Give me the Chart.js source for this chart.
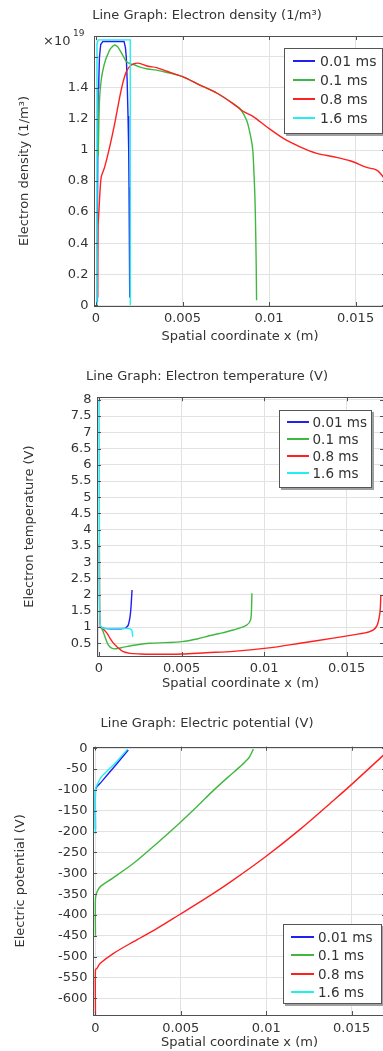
<!DOCTYPE html>
<html>
<head>
<meta charset="utf-8">
<title>Line Graph</title>
<script src="https://cdn.jsdelivr.net/npm/chart.js@4.4.0/dist/chart.umd.min.js"></script>
<style>
html, body { margin: 0; padding: 0; background: #fff; overflow: hidden; }
#pagina { position: relative; width: 383px; height: 1051px; overflow: hidden; font-family: "DejaVu Sans", sans-serif; color: #333; }
.panel { position: absolute; left: 0; width: 383px; overflow: hidden; }
.panel canvas { display: block; }
.leyenda { position: absolute; background: #fff; border: 1px solid #555; box-shadow: 2px 2px 0 #a0a0a0; box-sizing: border-box; }
.leyenda .fila { display: flex; align-items: center; white-space: nowrap; }
.leyenda .linea { display: inline-block; height: 2px; }
.exp { position: absolute; color: #333; white-space: nowrap; }
</style>
</head>
<body>
<div id="pagina">
  <div class="panel" id="panel1" style="top:0px;height:345px">
    <canvas id="graficaDensidad" width="414" height="345"></canvas>
    <span class="exp" style="left:43px;top:33px;font-size:13px">×10</span>
    <span class="exp" style="left:73px;top:28px;font-size:9px">19</span>
  </div>
  <div class="panel" id="panel2" style="top:345px;height:350px">
    <canvas id="graficaTemperatura" width="414" height="350"></canvas>
  </div>
  <div class="panel" id="panel3" style="top:695px;height:356px">
    <canvas id="graficaPotencial" width="414" height="356"></canvas>
  </div>
</div>
<script>
"use strict";

// series (tiempos) y sus colores
let series = ["0.01 ms", "0.1 ms", "0.8 ms", "1.6 ms"];
let colores = ["#2020f0", "#40b840", "#ff2020", "#20f0f0"];

// eje x compartido (m)
let ticksX = [0, 0.005, 0.01, 0.015];
let etiquetasX = ["0", "0.005", "0.01", "0.015"];

// ---------- densidad de electrones (x10^19 1/m3) ----------
let ticksDensidad = [0, 0.2, 0.4, 0.6, 0.8, 1, 1.2, 1.4, 1.6];
let etiquetasDensidad = ["0", "0.2", "0.4", "0.6", "0.8", "1", "1.2", "1.4", ""];

let densX_001 = [0.00008, 0.00008, 0.00012, 0.00016, 0.0002, 0.00027, 0.0004, 0.0008, 0.0012, 0.00162, 0.0017, 0.00175, 0.0018, 0.00185, 0.00189, 0.00191, 0.00194, 0.00196];
let densY_001 = [0.02, 0.52, 1.40, 1.44, 1.60, 1.68, 1.70, 1.70, 1.70, 1.70, 1.66, 1.60, 1.45, 1.22, 1.00, 0.76, 0.40, 0.05];

let densX_01 = [0.00013, 0.00016, 0.00021, 0.0003, 0.0004, 0.00055, 0.00069, 0.00085, 0.00108, 0.00125, 0.00137, 0.0016, 0.00175, 0.002, 0.00224, 0.0025, 0.003, 0.0035, 0.0041, 0.005, 0.006, 0.007, 0.0079, 0.0083, 0.0087, 0.00894, 0.00906, 0.00913, 0.00919, 0.00923, 0.00926, 0.00928];
let densY_01 = [0.96, 1.15, 1.34, 1.45, 1.516, 1.58, 1.62, 1.655, 1.677, 1.665, 1.645, 1.60, 1.57, 1.555, 1.548, 1.536, 1.522, 1.515, 1.500, 1.473, 1.419, 1.366, 1.301, 1.269, 1.194, 1.086, 1.00, 0.85, 0.677, 0.46, 0.247, 0.032];

let densX_08 = [0.0001, 0.00012, 0.00017, 0.00024, 0.00031, 0.0005, 0.00079, 0.00108, 0.00146, 0.00175, 0.00204, 0.00243, 0.003, 0.0035, 0.0041, 0.005, 0.006, 0.007, 0.0079, 0.0085, 0.00909, 0.00986, 0.01083, 0.01179, 0.01276, 0.01372, 0.01468, 0.01565, 0.01622, 0.01659, 0.0168];
let densY_08 = [0.05, 0.505, 0.61, 0.75, 0.83, 0.89, 1.02, 1.17, 1.39, 1.505, 1.548, 1.56, 1.54, 1.531, 1.508, 1.473, 1.419, 1.366, 1.301, 1.25, 1.215, 1.15, 1.075, 1.021, 0.979, 0.957, 0.931, 0.888, 0.871, 0.828, 0.78];

let densX_16 = [0.00006, 0.00006, 0.00012, 0.0002, 0.001, 0.00198, 0.00198];
let densY_16 = [0.0, 1.68, 1.71, 1.71, 1.71, 1.71, 0.0];

// ---------- temperatura de electrones (V) ----------
let ticksTemperatura = [0.5, 1, 1.5, 2, 2.5, 3, 3.5, 4, 4.5, 5, 5.5, 6, 6.5, 7, 7.5, 8];
let etiquetasTemperatura = ["0.5", "1", "1.5", "2", "2.5", "3", "3.5", "4", "4.5", "5", "5.5", "6", "6.5", "7", "7.5", "8"];

let tempX_001 = [0.00005, 0.0003, 0.00157, 0.00177, 0.00188, 0.00194, 0.002];
let tempY_001 = [1.02, 0.96, 0.96, 1.06, 1.32, 1.63, 2.14];

let tempX_01 = [0.00005, 0.0002, 0.00036, 0.00056, 0.00077, 0.001, 0.0015, 0.002, 0.00309, 0.004, 0.00502, 0.006, 0.00652, 0.0073, 0.00813, 0.00894, 0.00918, 0.00924, 0.00926];
let tempY_01 = [1.02, 0.92, 0.70, 0.45, 0.35, 0.33, 0.38, 0.43, 0.50, 0.52, 0.55, 0.64, 0.71, 0.80, 0.91, 1.06, 1.22, 1.63, 2.04];

let tempX_08 = [0.00002, 0.00003, 0.00005, 0.0001, 0.0003, 0.0005, 0.00067, 0.00085, 0.00107, 0.00147, 0.00188, 0.0025, 0.0031, 0.00502, 0.0065, 0.00813, 0.01015, 0.01217, 0.01418, 0.0154, 0.0164, 0.01681, 0.01701, 0.01707];
let tempY_08 = [3.55, 2.40, 1.30, 1.00, 0.92, 0.80, 0.65, 0.52, 0.40, 0.24, 0.19, 0.17, 0.16, 0.17, 0.21, 0.25, 0.35, 0.50, 0.66, 0.76, 0.86, 1.02, 1.43, 1.99];

let tempX_16 = [0.00001, 0.00002, 0.00003, 0.00005, 0.0001, 0.00026, 0.00168, 0.00198, 0.00204];
let tempY_16 = [8.0, 5.0, 2.5, 1.3, 1.02, 0.96, 0.96, 0.91, 0.70];

// ---------- potencial electrico (V) ----------
let ticksPotencial = [0, -50, -100, -150, -200, -250, -300, -350, -400, -450, -500, -550, -600];
let etiquetasPotencial = ["0", "-50", "-100", "-150", "-200", "-250", "-300", "-350", "-400", "-450", "-500", "-550", "-600"];

let potX_001 = [0.00001, 0.00001, 0.0001, 0.00037, 0.0012, 0.00193];
let potY_001 = [-195, -100, -92, -80, -40, -4];

let potX_01 = [0.00001, 0.00001, 0.0001, 0.00029, 0.001, 0.00224, 0.0035, 0.00489, 0.006, 0.00684, 0.0078, 0.00847, 0.009, 0.00925];
let potY_01 = [-450, -360, -345, -332, -312, -276, -232, -181, -138, -104, -68, -44, -22, -2];

let potX_08 = [0.00001, 0.00001, 0.0001, 0.00029, 0.00107, 0.00224, 0.0035, 0.00489, 0.0065, 0.008, 0.01, 0.012, 0.014, 0.0151, 0.01685, 0.0172];
let potY_08 = [-640, -532, -528, -516, -492, -464, -435, -400, -359, -318, -259, -194, -123, -83, -17, -5];

let potX_16 = [0.00001, 0.00001, 0.0001, 0.00037, 0.0012, 0.00189];
let potY_16 = [-205, -100, -88, -68, -34, -2];


// junta los arrays x / y en puntos {x, y}
function puntos(xs, ys) {
    let lista = [];
    for (let i = 0; i < xs.length; i++) {
        lista.push({ x: xs[i], y: ys[i] });
    }
    return lista;
}

function armarDatasets(pares, tensiones) {
    return pares.map((par, i) => ({
        label: series[i],
        data: puntos(par[0], par[1]),
        borderColor: colores[i],
        backgroundColor: colores[i],
        borderWidth: 1.4,
        pointRadius: 0,
        tension: tensiones[i],
        fill: false,
        order: 4 - i // la ultima serie queda arriba, como en el original
    }));
}

// marco del grafico con las marquitas hacia adentro
const marco = {
    id: "marco",
    afterDatasetsDraw(chart) {
        const { ctx, chartArea: a, scales } = chart;
        ctx.save();
        ctx.strokeStyle = "#505050";
        ctx.lineWidth = 1;
        ctx.beginPath();
        scales.x.ticks.forEach(t => {
            let px = Math.round(scales.x.getPixelForValue(t.value)) + 0.5;
            ctx.moveTo(px, a.bottom); ctx.lineTo(px, a.bottom - 4);
            ctx.moveTo(px, a.top); ctx.lineTo(px, a.top + 4);
        });
        scales.y.ticks.forEach(t => {
            let py = Math.round(scales.y.getPixelForValue(t.value)) + 0.5;
            ctx.moveTo(a.left, py); ctx.lineTo(a.left + 4, py);
            ctx.moveTo(a.right, py); ctx.lineTo(a.right - 4, py);
        });
        ctx.stroke();
        ctx.strokeRect(Math.round(a.left) + 0.5, Math.round(a.top) + 0.5, Math.round(a.right - a.left), Math.round(a.bottom - a.top));
        ctx.restore();
    }
};

Chart.defaults.font.family = "'DejaVu Sans', sans-serif";
Chart.defaults.color = "#333";

function crearGrafica(id, c) {
    const ctx = document.getElementById(id).getContext("2d");
    return new Chart(ctx, {
        type: "line",
        data: { datasets: armarDatasets(c.pares, c.tensiones) },
        options: {
            responsive: false,
            animation: false,
            devicePixelRatio: 1,
            layout: { padding: 0 },
            plugins: {
                legend: { display: false },
                tooltip: { enabled: false },
                title: {
                    display: true,
                    text: c.titulo,
                    color: "#333",
                    font: { size: 13, weight: "normal" },
                    padding: { top: c.tituloArriba, bottom: c.tituloAbajo }
                }
            },
            scales: {
                x: {
                    type: "linear",
                    min: c.xMin,
                    max: c.xMax,
                    afterBuildTicks: s => { s.ticks = ticksX.map(v => ({ value: v })); },
                    afterFit: s => { s.height = c.altoX; },
                    ticks: { autoSkip: false, maxRotation: 0, padding: c.padTickX, font: { size: 13 }, callback: (v, i) => etiquetasX[i] },
                    grid: { color: "#e2e2e2", drawTicks: false },
                    border: { display: false },
                    title: { display: true, text: "Spatial coordinate x (m)", font: { size: 13 }, padding: { top: c.padTituloX, bottom: c.padTituloX } }
                },
                y: {
                    type: "linear",
                    min: c.yMin,
                    max: c.yMax,
                    afterBuildTicks: s => { s.ticks = c.ticksY.map(v => ({ value: v })); },
                    afterFit: s => { s.width = c.anchoY; },
                    ticks: { autoSkip: false, padding: 5.5, font: { size: 13 }, callback: (v, i) => c.etiquetasY[i] },
                    grid: { color: "#e2e2e2", drawTicks: false },
                    border: { display: false },
                    title: { display: true, text: c.tituloY, font: { size: 13 }, padding: { top: c.padTituloY, bottom: c.padTituloY } }
                },
                // eje vacio a la derecha, solo para que el titulo quede centrado como en el original
                derecha: {
                    type: "linear",
                    position: "right",
                    display: true,
                    afterFit: s => { s.width = c.margenDer; },
                    ticks: { display: false },
                    grid: { display: false },
                    border: { display: false }
                }
            }
        },
        plugins: [marco]
    });
}

// leyenda dentro del grafico, armada con los datasets
function crearLeyenda(chart, panelId, caja) {
    let div = document.createElement("div");
    div.className = "leyenda";
    div.style.left = caja.left + "px";
    div.style.top = caja.top + "px";
    div.style.width = caja.ancho + "px";
    div.style.height = caja.alto + "px";
    div.style.paddingTop = caja.padTop + "px";
    div.style.paddingLeft = caja.padLeft + "px";
    div.style.fontSize = caja.fuente + "px";
    chart.data.datasets.forEach(ds => {
        let fila = document.createElement("div");
        fila.className = "fila";
        fila.style.height = caja.fila + "px";
        let linea = document.createElement("span");
        linea.className = "linea";
        linea.style.width = caja.linea + "px";
        linea.style.background = ds.borderColor;
        linea.style.marginRight = caja.gap + "px";
        let texto = document.createElement("span");
        texto.textContent = ds.label;
        fila.appendChild(linea);
        fila.appendChild(texto);
        div.appendChild(fila);
    });
    document.getElementById(panelId).appendChild(div);
}

let g1 = crearGrafica("graficaDensidad", {
    pares: [[densX_001, densY_001], [densX_01, densY_01], [densX_08, densY_08], [densX_16, densY_16]],
    tensiones: [0, 0.3, 0.3, 0],
    titulo: "Line Graph: Electron density (1/m³)",
    tituloArriba: 7.7, tituloAbajo: 12.7,
    tituloY: "Electron density (1/m³)",
    xMin: -0.000116, xMax: 0.01676,
    yMin: -0.005, yMax: 1.735,
    ticksY: ticksDensidad, etiquetasY: etiquetasDensidad,
    anchoY: 94, altoX: 39, margenDer: 28,
    padTickX: 4.5, padTituloX: 0.5, padTituloY: 16.7
});
crearLeyenda(g1, "panel1", { left: 284, top: 48, ancho: 99, alto: 86, padTop: 3, padLeft: 8, fila: 18.8, linea: 22, gap: 5, fuente: 14 });

let g2 = crearGrafica("graficaTemperatura", {
    pares: [[tempX_001, tempY_001], [tempX_01, tempY_01], [tempX_08, tempY_08], [tempX_16, tempY_16]],
    tensiones: [0.2, 0.3, 0.3, 0.2],
    titulo: "Line Graph: Electron temperature (V)",
    tituloArriba: 23.7, tituloAbajo: 12.9,
    tituloY: "Electron temperature (V)",
    xMin: -0.000121, xMax: 0.01726,
    yMin: 0.108, yMax: 8.083,
    ticksY: ticksTemperatura, etiquetasY: etiquetasTemperatura,
    anchoY: 97, altoX: 39, margenDer: 30,
    padTickX: 4.5, padTituloX: 3.2, padTituloY: 21.7
});
crearLeyenda(g2, "panel2", { left: 279, top: 65, ancho: 93, alto: 78, padTop: 2, padLeft: 7, fila: 17.2, linea: 22, gap: 3.5, fuente: 13.5 });

let g3 = crearGrafica("graficaPotencial", {
    pares: [[potX_001, potY_001], [potX_01, potY_01], [potX_08, potY_08], [potX_16, potY_16]],
    tensiones: [0.2, 0.3, 0.3, 0.2],
    titulo: "Line Graph: Electric potential (V)",
    tituloArriba: 20.7, tituloAbajo: 15.4,
    tituloY: "Electric potential (V)",
    xMin: -0.000134, xMax: 0.01701,
    yMin: -640, yMax: 3.8,
    ticksY: ticksPotencial, etiquetasY: etiquetasPotencial,
    anchoY: 93, altoX: 36, margenDer: 28,
    padTickX: 5.5, padTituloX: 0.5, padTituloY: 13.2
});
crearLeyenda(g3, "panel3", { left: 283, top: 229, ancho: 99, alto: 80, padTop: 3, padLeft: 7, fila: 18.3, linea: 22.5, gap: 4.5, fuente: 13.5 });

console.log("graficas listas");
</script>
</body>
</html>
